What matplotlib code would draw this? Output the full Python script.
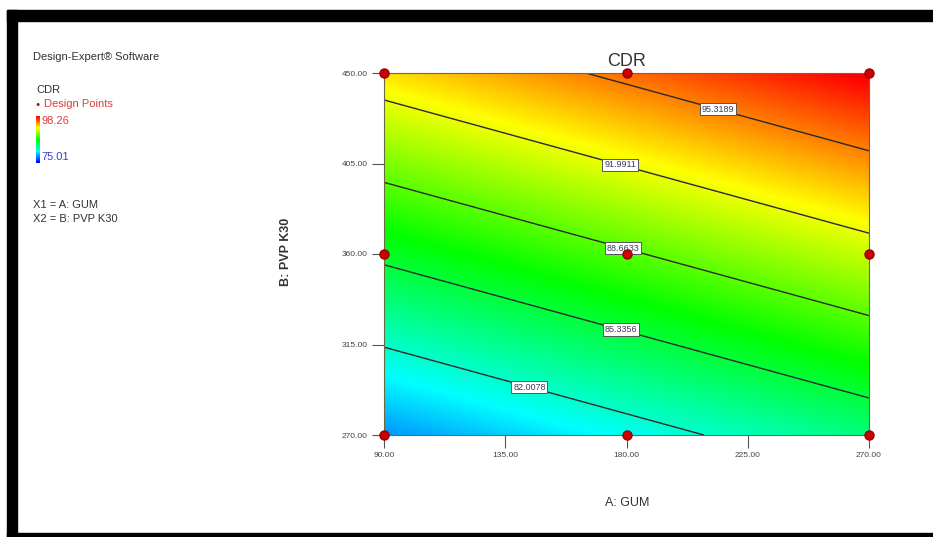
"""Contour plot of CDR over GUM and PVP K30, Design-Expert style."""
import numpy as np
import matplotlib
matplotlib.use("Agg")
import matplotlib.pyplot as plt
from matplotlib.colors import LinearSegmentedColormap
from matplotlib.patches import Rectangle

plt.rcParams["font.family"] = ["Liberation Sans", "DejaVu Sans"]

# factor ranges and ticks
gum_ticks = [90.0, 135.0, 180.0, 225.0, 270.0]
pvp_ticks = [270.0, 315.0, 360.0, 405.0, 450.0]

# 3x3 design points
design_gum = [90, 180, 270, 90, 180, 270, 90, 180, 270]
design_pvp = [270, 270, 270, 360, 360, 360, 450, 450, 450]

# linear model in coded units
b0 = 88.46
b_gum = 2.69
b_pvp = 7.31

cdr_min, cdr_max = 75.01, 98.26
contour_levels = [82.0078, 85.3356, 88.6633, 91.9911, 95.3189]
label_spots = [(144, 294), (178, 323), (179, 364), (178, 406), (214, 433)]

cmap = LinearSegmentedColormap.from_list(
    "de", ["#0000ff", "#00ffff", "#00ff00", "#ffff00", "#ff0000"])


def cdr(gum, pvp):
    A = (gum - 180.0) / 90.0
    B = (pvp - 360.0) / 90.0
    return b0 + b_gum * A + b_pvp * B


W, H = 933, 537
fig = plt.figure(figsize=(W / 100, H / 100), dpi=100)


def fx(px):
    return px / W


def fy(py):
    return 1 - py / H


ax = fig.add_axes([fx(384), fy(435), fx(869) - fx(384), fy(73) - fy(435)])

gx = np.linspace(90, 270, 300)
gy = np.linspace(270, 450, 300)
GX, GY = np.meshgrid(gx, gy)
Z = cdr(GX, GY)

ax.imshow(Z, extent=(90, 270, 270, 450), origin="lower", aspect="auto",
          cmap=cmap, vmin=cdr_min, vmax=cdr_max, interpolation="bilinear")
cs = ax.contour(GX, GY, Z, levels=contour_levels, colors="#2a2a2a", linewidths=1.0)
labels = ax.clabel(cs, contour_levels, manual=label_spots, fmt="%.4f",
                   fontsize=6.5, inline=False, colors="#3a3a5a")
for t in labels:
    t.set_rotation(0)
    t.set_bbox(dict(boxstyle="square,pad=0.2", fc="white", ec="#555555", lw=0.7))

ax.plot(design_gum, design_pvp, "o", ms=6.5, color="#cc0000", mec="#990000",
        clip_on=False, zorder=5)

ax.set_xlim(90, 270)
ax.set_ylim(270, 450)
ax.set_xticks(gum_ticks)
ax.set_yticks(pvp_ticks)
ax.set_xticklabels([f"{v:.2f}" for v in gum_ticks])
ax.set_yticklabels([f"{v:.2f}" for v in pvp_ticks])
ax.tick_params(direction="out", length=9, width=0.8, color="#555555",
               labelsize=6, labelcolor="#444444", pad=3)
for s in ax.spines.values():
    s.set_color("#6a6a40")
    s.set_linewidth(0.8)

ax.set_title("CDR", fontsize=13, color="#333333", pad=5)
fig.text(fx(627), fy(503), "A: GUM", fontsize=9, color="#333333",
         ha="center", va="center")
fig.text(fx(286), fy(252), "B: PVP K30", fontsize=9, color="#333333",
         ha="center", va="center", rotation=90, fontweight="bold")

# left-hand info panel
fig.text(fx(33), fy(57), "Design-Expert\u00ae Software", fontsize=8,
         color="#333333", va="center")
fig.text(fx(36), fy(90), "CDR", fontsize=8, color="#333333", va="center")
fig.text(fx(35), fy(104), "\u25cf", fontsize=5, color="#aa1010", va="center")
fig.text(fx(44), fy(104), "Design Points", fontsize=8, color="#e03a3a", va="center")
fig.text(fx(41), fy(121), f"{cdr_max:.2f}", fontsize=8, color="#e03a3a", va="center")
fig.text(fx(41), fy(157), f"{cdr_min:.2f}", fontsize=8, color="#3a3ad0", va="center")
fig.text(fx(33), fy(205), "X1 = A: GUM", fontsize=8, color="#333333", va="center")
fig.text(fx(33), fy(219), "X2 = B: PVP K30", fontsize=8, color="#333333", va="center")

cax = fig.add_axes([fx(36), fy(163), fx(4), fy(116) - fy(163)])
grad = np.linspace(cdr_min, cdr_max, 100).reshape(-1, 1)
cax.imshow(grad, origin="lower", aspect="auto", cmap=cmap,
           vmin=cdr_min, vmax=cdr_max)
cax.set_axis_off()

# black frame around the screenshot
for (x0, y0, x1, y1) in [(7, 10, 17, 537), (7, 10, W, 21), (7, 533, W, 537)]:
    fig.patches.append(Rectangle((fx(x0), fy(y1)), fx(x1) - fx(x0), fy(y0) - fy(y1),
                                 transform=fig.transFigure, color="black", zorder=10))

fig.savefig("out.png", dpi=100)
